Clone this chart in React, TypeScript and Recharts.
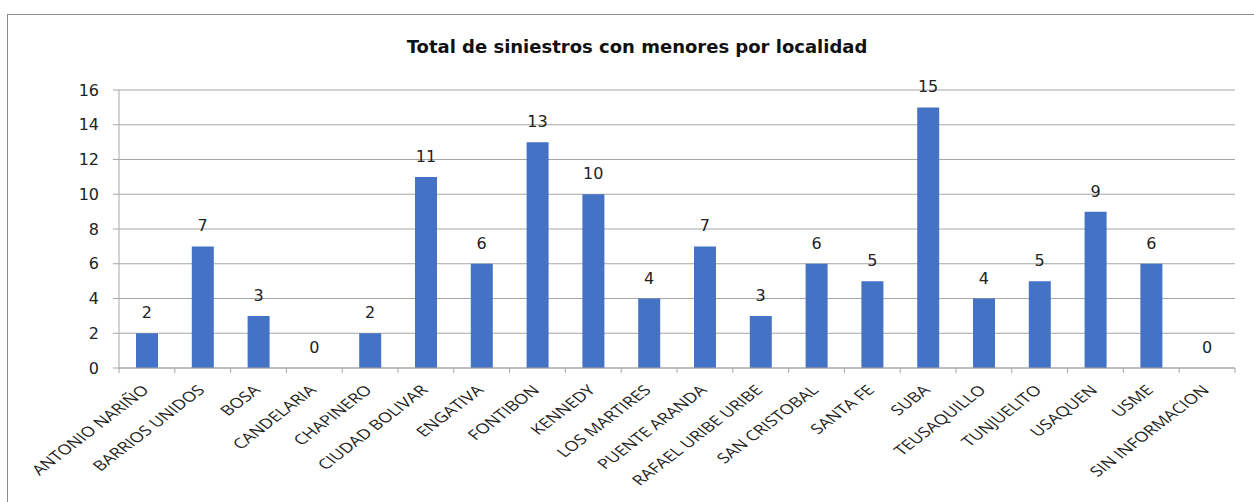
import React from 'react';
import { ComposedChart, Bar, Line, XAxis, YAxis, CartesianGrid, LabelList } from 'recharts';

const LOCALIDADES = [
    'ANTONIO NARIÑO', 'BARRIOS UNIDOS', 'BOSA', 'CANDELARIA', 'CHAPINERO',
    'CIUDAD BOLIVAR', 'ENGATIVA', 'FONTIBON', 'KENNEDY', 'LOS MARTIRES',
    'PUENTE ARANDA', 'RAFAEL URIBE URIBE', 'SAN CRISTOBAL', 'SANTA FE', 'SUBA',
    'TEUSAQUILLO', 'TUNJUELITO', 'USAQUEN', 'USME', 'SIN INFORMACION',
];
const SINIESTROS = [2, 7, 3, 0, 2, 11, 6, 13, 10, 4, 7, 3, 6, 5, 15, 4, 5, 9, 6, 0];
const Y_TICKS = [0, 2, 4, 6, 8, 10, 12, 14, 16];

const TITLE = 'Total de siniestros con menores por localidad';

const data = LOCALIDADES.map((name, i) => ({ name, value: SINIESTROS[i] }));

const WIDTH = 1254;
const HEIGHT = 502;
const MARGIN = { top: 90, right: 19, bottom: 0, left: 59 };
const Y_AXIS_W = 60;
const GRID = '#a6a6a6';
const FONT = '"DejaVu Sans", sans-serif';
const LABEL_FONT = '"Open Sans", sans-serif';

// width of one category band, used for Excel-style ticks between categories
const BAND = (WIDTH - MARGIN.left - Y_AXIS_W - MARGIN.right) / LOCALIDADES.length;

const CategoryTick = (props: any) => {
    const { x, y, payload, index } = props;
    const half = BAND / 2;
    return (
        <g>
            <line x1={x - half} x2={x - half} y1={y} y2={y + 5} stroke={GRID} />
            {index === LOCALIDADES.length - 1 && (
                <line x1={x + half} x2={x + half} y1={y} y2={y + 5} stroke={GRID} />
            )}
            {/* the reference is stretched sideways, so the 45° labels come out flatter */}
            <text
                x={0}
                y={0}
                transform={`translate(${x + 3}, ${y + 23}) scale(1.3, 1) rotate(-45)`}
                textAnchor="end"
                fontSize={14}
                fill="#222"
                fontFamily={LABEL_FONT}
            >
                {payload.value}
            </text>
        </g>
    );
};

// labels hang off an invisible line so that zero values get one as well
const ValueLabel = (props: any) => {
    const { x, y, value } = props;
    return (
        <text x={x} y={y - 15} textAnchor="middle" fontSize={16} fill="#222" fontFamily={FONT}>
            {value}
        </text>
    );
};

export default function App() {
    return (
        <div style={{ position: 'absolute', left: 0, top: 0, width: WIDTH, height: HEIGHT, background: '#fff', overflow: 'hidden' }}>
            {/* chart frame */}
            <div style={{ position: 'absolute', left: 7, top: 14, width: 1260, height: 520, border: '1px solid #8c8c8c' }} />
            <div style={{ position: 'absolute', left: 0, top: 0 }}>
                <ComposedChart width={WIDTH} height={HEIGHT} data={data} margin={MARGIN}>
                    <text
                        x={637}
                        y={53}
                        textAnchor="middle"
                        fontSize={18}
                        fontWeight="bold"
                        fill="#111"
                        fontFamily={FONT}
                    >
                        {TITLE}
                    </text>
                    <CartesianGrid vertical={false} stroke={GRID} />
                    <XAxis
                        dataKey="name"
                        interval={0}
                        height={134}
                        tickSize={0}
                        tickMargin={0}
                        tickLine={false}
                        axisLine={{ stroke: GRID }}
                        tick={<CategoryTick />}
                    />
                    <YAxis
                        width={Y_AXIS_W}
                        domain={[0, 16]}
                        ticks={Y_TICKS}
                        interval={0}
                        tickSize={6}
                        tickMargin={14}
                        axisLine={{ stroke: GRID }}
                        tickLine={{ stroke: GRID }}
                        tick={{ fontSize: 16, fill: '#222', fontFamily: FONT }}
                    />
                    <Bar dataKey="value" fill="#4472C4" barSize={22} isAnimationActive={false} />
                    <Line
                        dataKey="value"
                        stroke="none"
                        dot={false}
                        activeDot={false}
                        legendType="none"
                        isAnimationActive={false}
                    >
                        <LabelList dataKey="value" content={<ValueLabel />} />
                    </Line>
                </ComposedChart>
            </div>
        </div>
    );
}
